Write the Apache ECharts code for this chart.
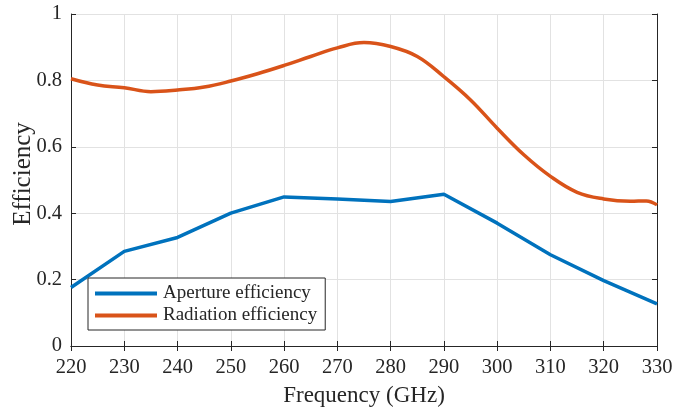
<!DOCTYPE html>
<html>
<head>
<meta charset="utf-8">
<script src="https://cdn.jsdelivr.net/npm/echarts@6/dist/echarts.min.js"></script>
<style>
html, body { margin: 0; padding: 0; background: #fff; }
#chart { width: 674px; height: 410px; }
</style>
</head>
<body>
<div id="chart"></div>
<script>
// 数据
let apFreq = [220, 230, 240, 250, 260, 270, 280, 290, 300, 310, 320, 330];
let apValue = [0.176, 0.285, 0.327, 0.400, 0.449, 0.443, 0.435, 0.457, 0.370, 0.275, 0.197, 0.127];

let radFreq = [220, 225, 230, 235, 240, 245, 250, 255, 260, 265, 270, 275, 280, 285, 290, 295, 300, 305, 310, 315, 320, 325, 328, 330];
let radValue = [0.805, 0.786, 0.778, 0.766, 0.771, 0.780, 0.798, 0.820, 0.845, 0.872, 0.898, 0.914, 0.902, 0.872, 0.811, 0.741, 0.656, 0.576, 0.511, 0.463, 0.443, 0.436, 0.437, 0.425];

let xTicks = [220, 330, 10];
let yTicks = [0, 1, 0.2];

function pairs(xs, ys) {
	return xs.map(function (x, i) { return [x, ys[i]]; });
}

let serif = '"Liberation Serif", "Times New Roman", serif';
let axisColor = '#262626';

let chart = echarts.init(document.getElementById('chart'));

let option = {
	animation: false,
	grid: { left: 71, top: 14, width: 586, height: 332, outerBoundsMode: 'none', containLabel: false },
	legend: {
		orient: 'vertical',
		left: 88,
		top: 278,
		icon: 'rect',
		itemWidth: 62,
		itemHeight: 4,
		itemGap: 3,
		padding: [6, 8, 5, 7],
		backgroundColor: '#fff',
		borderColor: axisColor,
		borderWidth: 1,
		borderRadius: 0,
		textStyle: { fontFamily: serif, fontSize: 19, color: axisColor, padding: [0, 0, 0, 1] },
		data: ['Aperture efficiency', 'Radiation efficiency']
	},
	xAxis: [{
		type: 'value',
		min: xTicks[0], max: xTicks[1], interval: xTicks[2],
		name: 'Frequency (GHz)',
		nameLocation: 'middle',
		nameGap: 38,
		nameMoveOverlap: false,
		nameTextStyle: { fontFamily: serif, fontSize: 23, color: axisColor },
		axisLine: { lineStyle: { color: axisColor, width: 1 } },
		axisTick: { inside: true, length: 5, lineStyle: { color: axisColor } },
		axisLabel: { fontFamily: serif, fontSize: 20.5, color: axisColor, margin: 11 },
		splitLine: { show: true, lineStyle: { color: '#e2e2e2', width: 1 } }
	}, {
		type: 'value',
		position: 'top',
		min: xTicks[0], max: xTicks[1], interval: xTicks[2],
		axisLine: { show: true, lineStyle: { color: axisColor, width: 1 } },
		axisTick: { show: true, inside: true, length: 5, lineStyle: { color: axisColor } },
		axisLabel: { show: false },
		splitLine: { show: false }
	}],
	yAxis: [{
		type: 'value',
		min: yTicks[0], max: yTicks[1], interval: yTicks[2],
		name: 'Efficiency',
		nameLocation: 'middle',
		nameGap: 35,
		nameMoveOverlap: false,
		nameTextStyle: { fontFamily: serif, fontSize: 25, color: axisColor, padding: [0, 0, 0, 12] },
		axisLine: { show: true, lineStyle: { color: axisColor, width: 1 } },
		axisTick: { show: true, inside: true, length: 5, lineStyle: { color: axisColor } },
		axisLabel: { fontFamily: serif, fontSize: 20.5, color: axisColor, margin: 9 },
		splitLine: { show: true, lineStyle: { color: '#e2e2e2', width: 1 } }
	}, {
		type: 'value',
		position: 'right',
		min: yTicks[0], max: yTicks[1], interval: yTicks[2],
		axisLine: { show: true, lineStyle: { color: axisColor, width: 1 } },
		axisTick: { show: true, inside: true, length: 5, lineStyle: { color: axisColor } },
		axisLabel: { show: false },
		splitLine: { show: false }
	}],
	series: [{
		name: 'Aperture efficiency',
		type: 'line',
		data: pairs(apFreq, apValue),
		showSymbol: false,
		lineStyle: { color: '#0072BD', width: 3.5 },
		itemStyle: { color: '#0072BD' },
		z: 3
	}, {
		name: 'Radiation efficiency',
		type: 'line',
		data: pairs(radFreq, radValue),
		smooth: 0.4,
		showSymbol: false,
		lineStyle: { color: '#D95319', width: 3.5 },
		itemStyle: { color: '#D95319' },
		z: 2
	}]
};

chart.setOption(option);
</script>
</body>
</html>
